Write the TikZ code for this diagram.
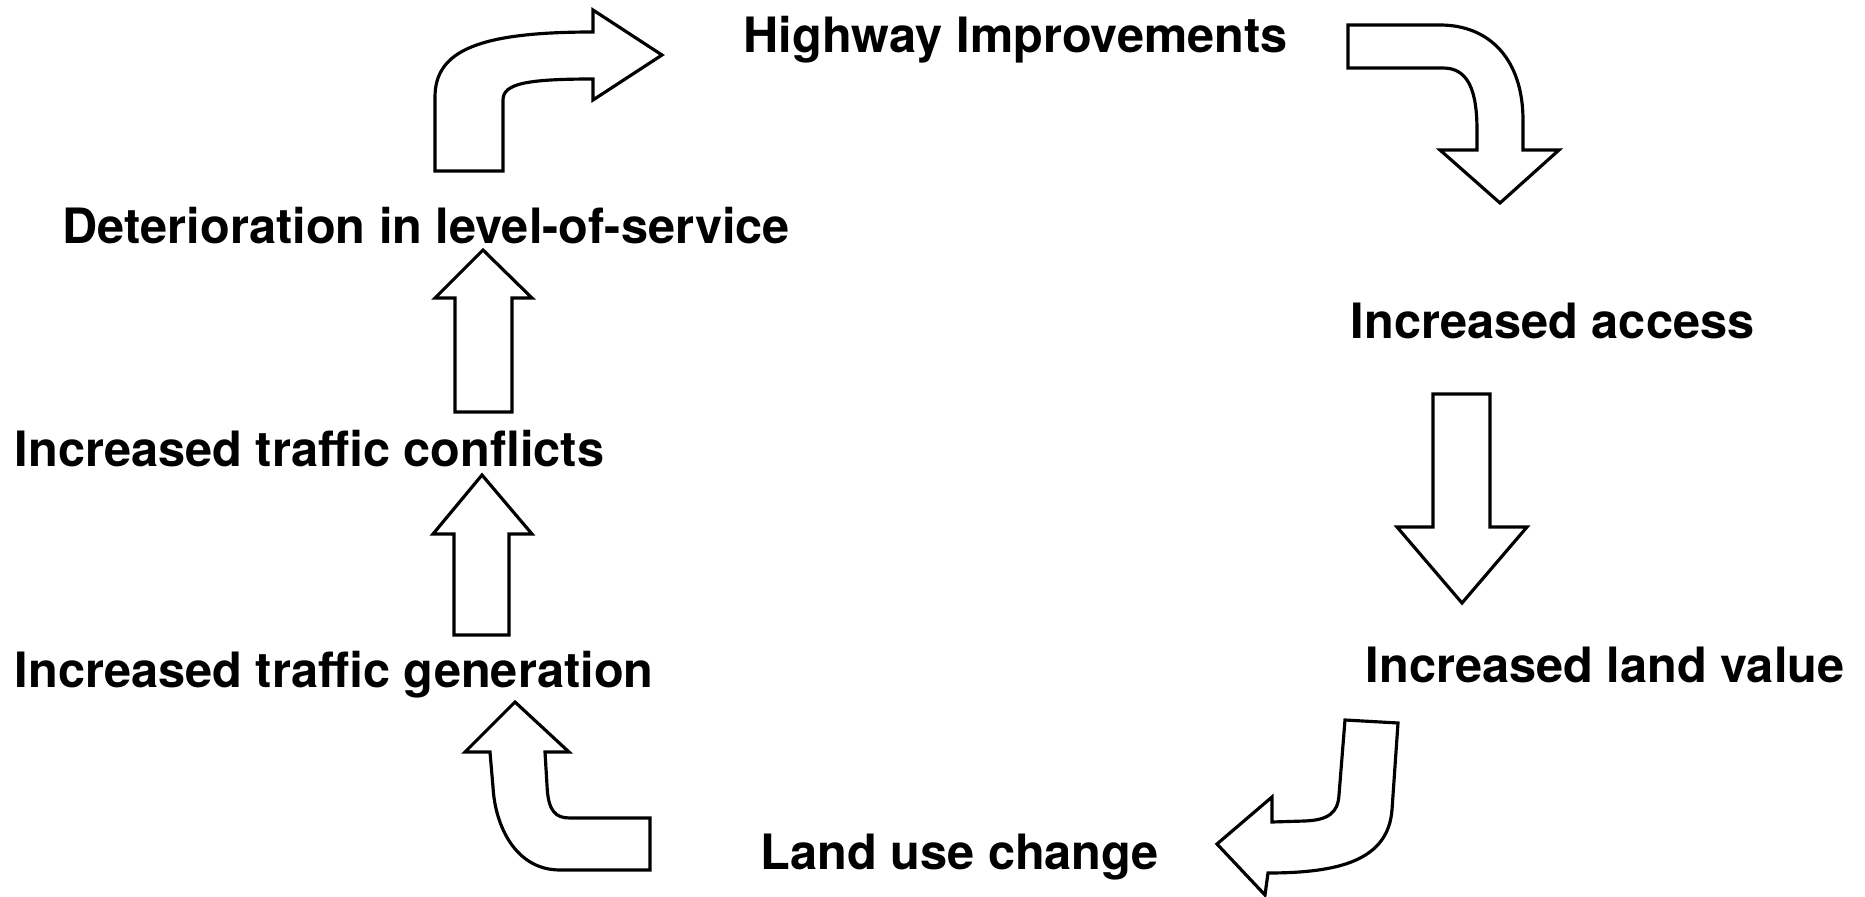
\documentclass[tikz,border=0pt]{standalone}
\usepackage{fontspec}
\setmainfont{TeX Gyre Heros}
\begin{document}
\begin{tikzpicture}[x=0.01cm,y=-0.01cm,
  lbl/.style={anchor=base west,inner sep=0pt,font=\fontsize{13.85}{16}\selectfont\bfseries},
  blockarrow/.style={draw=black,line width=0.9pt,fill=white,line join=miter}]
\useasboundingbox[fill=white] (0,0) rectangle (1865,897);

% labels
\node[lbl] (hw)   at (743,52)   {Highway Improvements};
\node[lbl] (acc)  at (1350,338) {Increased access};
\node[lbl] (lv)   at (1365,682) {Increased land value};
\node[lbl] (luc)  at (760,869)  {Land use change};
\node[lbl] (gen)  at (14,687)   {Increased traffic generation};
\node[lbl] (conf) at (14,466)   {Increased traffic conflicts};
\node[lbl] (det)  at (62,243)   {Deterioration in level-of-service};

% Deterioration -> Highway Improvements (curved, pointing right)
\draw[blockarrow] (435,171) -- (435,97)
  .. controls (435,50) and (480,32) .. (593,32) -- (593,10) -- (662,55)
  -- (593,100) -- (593,79)
  .. controls (525,79) and (503,84) .. (503,100) -- (503,171) -- cycle;

% Highway Improvements -> Increased access (curved, pointing down)
\draw[blockarrow] (1348,25) -- (1440,25)
  .. controls (1490,25) and (1523,60) .. (1523,120) -- (1523,150)
  -- (1559,150) -- (1500,203) -- (1440,150) -- (1477,150) -- (1477,130)
  .. controls (1477,90) and (1468,68) .. (1443,68) -- (1348,68) -- cycle;

% Increased access -> Increased land value (straight, down)
\draw[blockarrow] (1433,394) -- (1490,394) -- (1490,527) -- (1527,527)
  -- (1462,603) -- (1397,527) -- (1433,527) -- cycle;

% Increased land value -> Land use change (curved, pointing left)
\draw[blockarrow] (1345,720) -- (1398,723) -- (1392,810)
  .. controls (1388,860) and (1340,873) .. (1268,873) -- (1265,895)
  -- (1217,844) -- (1272,797) -- (1272,822) -- (1305,821)
  .. controls (1328,820) and (1338,813) .. (1339,795) -- cycle;

% Land use change -> Increased traffic generation (curved, pointing up)
\draw[blockarrow] (650,818) -- (650,870) -- (560,870)
  .. controls (515,870) and (495,825) .. (493,787) -- (490,752)
  -- (465,752) -- (515,702) -- (569,752) -- (545,752) -- (547,785)
  .. controls (548,812) and (556,818) .. (570,818) -- cycle;

% Increased traffic generation -> Increased traffic conflicts (straight, up)
\draw[blockarrow] (454,635) -- (454,534) -- (433,534) -- (482,475)
  -- (532,534) -- (509,534) -- (509,635) -- cycle;

% Increased traffic conflicts -> Deterioration (straight, up)
\draw[blockarrow] (455,412) -- (455,298) -- (435,298) -- (483,250)
  -- (532,298) -- (512,298) -- (512,412) -- cycle;
\end{tikzpicture}
\end{document}
